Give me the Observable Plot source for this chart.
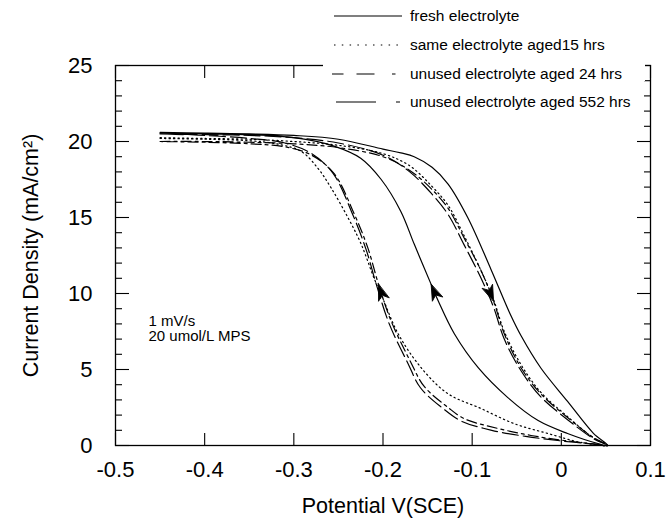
<!DOCTYPE html>
<html><head><meta charset="utf-8">
<script src="https://cdn.jsdelivr.net/npm/d3@7"></script>
<script src="https://cdn.jsdelivr.net/npm/@observablehq/plot@0.6"></script>
<style>
body{margin:0;background:#fff;}
#wrap{position:relative;width:666px;height:522px;font-family:"Liberation Sans",Arial,Helvetica,sans-serif;}
</style></head><body><div id="wrap"></div>
<script>
// ---- data ----
const seriesNames = ["fresh electrolyte", "same electrolyte aged15 hrs", "unused electrolyte aged 24 hrs", "unused electrolyte aged 552 hrs"];
const xTicks = [-0.5, -0.4, -0.3, -0.2, -0.1, 0, 0.1];
const xTickLabels = ["-0.5", "-0.4", "-0.3", "-0.2", "-0.1", "0", "0.1"];
const yTicks = [0, 5, 10, 15, 20, 25];
const yTickLabels = ["0", "5", "10", "15", "20", "25"];
const yMinorTicks = [1,2,3,4,6,7,8,9,11,12,13,14,16,17,18,19,21,22,23,24];
const xLabel = "Potential V(SCE)";
const yLabel = "Current Density (mA/cm²)";
const noteLines = ["1 mV/s", "20 umol/L MPS"];

// fresh electrolyte: forward sweep then return sweep
const freshV = [-0.45,-0.40,-0.35,-0.30,-0.25,-0.20,-0.18,-0.165,-0.145,-0.127,-0.105,-0.079,-0.057,-0.045,-0.023,0.007,0.036,0.052,
                0.041,0.007,-0.026,-0.060,-0.093,-0.120,-0.138,-0.146,-0.165,-0.180,-0.202,-0.225,-0.255,-0.30,-0.35,-0.40,-0.45];
const freshI = [20.6,20.55,20.5,20.4,20.15,19.5,19.25,19.0,18.3,17.2,15.0,11.6,8.6,7.2,5.1,2.9,0.8,0.0,
                0.13,0.79,1.64,3.15,5.1,7.35,9.5,10.6,13.25,15.4,17.5,18.9,19.7,20.25,20.45,20.5,20.55];
// same electrolyte aged 15 hrs
const aged15V = [-0.45,-0.40,-0.35,-0.30,-0.25,-0.20,-0.17,-0.146,-0.127,-0.109,-0.090,-0.076,-0.064,-0.045,-0.023,0.007,0.036,0.052,
                 0.022,-0.015,-0.053,-0.090,-0.127,-0.157,-0.183,-0.199,-0.210,-0.2245,-0.239,-0.258,-0.273,-0.292,-0.32,-0.35,-0.40,-0.45];
const aged15I = [20.25,20.2,20.15,20.0,19.75,19.2,18.4,17.1,15.8,13.8,11.5,9.6,7.5,5.3,3.5,1.9,0.5,0,
                 0.2,0.79,1.44,2.43,3.4,5.1,7.35,9.5,11.0,13.25,14.96,16.93,18.24,19.36,19.85,20.05,20.15,20.2];
// unused electrolyte aged 24 hrs
const aged24V = [-0.45,-0.40,-0.35,-0.30,-0.25,-0.20,-0.17,-0.146,-0.127,-0.109,-0.090,-0.076,-0.064,-0.045,-0.023,0.007,0.036,0.052,
                 0.041,0.003,-0.034,-0.071,-0.109,-0.127,-0.154,-0.169,-0.191,-0.205,-0.217,-0.232,-0.255,-0.28,-0.31,-0.35,-0.40,-0.45];
const aged24I = [20.0,20.0,19.95,19.85,19.6,19.0,18.1,16.9,15.6,13.65,11.5,9.5,7.35,5.1,3.4,1.84,0.52,0,
                 0.07,0.33,0.66,1.12,1.77,2.5,3.9,5.5,8.2,10.6,13.0,15.2,17.9,19.1,19.65,19.85,19.95,20.0];
// unused electrolyte aged 552 hrs
const aged552V = [-0.45,-0.40,-0.35,-0.30,-0.25,-0.20,-0.17,-0.146,-0.127,-0.109,-0.090,-0.076,-0.064,-0.045,-0.023,0.007,0.036,0.052,
                  0.040,0.000,-0.040,-0.078,-0.112,-0.132,-0.158,-0.172,-0.193,-0.207,-0.219,-0.234,-0.256,-0.28,-0.31,-0.35,-0.40,-0.45];
const aged552I = [20.5,20.45,20.4,20.25,19.9,19.1,18.0,16.6,15.2,13.2,11.0,9.1,7.0,4.9,3.2,1.7,0.45,0,
                  0.07,0.3,0.6,1.0,1.6,2.4,3.8,5.4,8.0,10.5,12.9,15.2,17.9,19.2,19.9,20.2,20.4,20.5];

// sweep-direction arrows: which series, and which point of it carries the arrow tip
const arrowSeries = [0, 2, 2];
const arrowPoint = [25, 27, 11];

// ---- styles / layout ----
const W = 666, H = 522, mL = 115, mR = 16, mT = 65, mB = 77;
const xDomain = [-0.5, 0.1], yDomain = [0, 25];
const curveDash = [null, "1.3,3.2", "10,4,3,4", "16,5"];
const FONT = '"Liberation Sans", Arial, Helvetica, sans-serif';

const seriesData = [[freshV, freshI], [aged15V, aged15I], [aged24V, aged24I], [aged552V, aged552I]];
const rows = [];
seriesData.forEach(([V, I], s) => V.forEach((v, i) => rows.push({series: seriesNames[s], s, i, V: v, I: I[i]})));

const innerW = W - mL - mR, innerH = H - mT - mB;
const kx = innerW / (xDomain[1] - xDomain[0]);
const ky = innerH / (yDomain[1] - yDomain[0]);
const arrowRows = arrowSeries.map((s, k) => {
  const [V, I] = seriesData[s];
  const j = arrowPoint[k];
  const dx = (V[j] - V[j - 1]) * kx, dy = -(I[j] - I[j - 1]) * ky;
  return {V: V[j], I: I[j], rot: Math.atan2(dx, -dy) * 180 / Math.PI};
});

const barb = {draw(context) {
  context.moveTo(0, 0);
  context.lineTo(-5.5, 16);
  context.lineTo(0, 11.5);
  context.lineTo(5.5, 16);
  context.closePath();
}};
// tick lengths in pixels, turned into data units for the rules
const tx = px => px / kx, ty = px => px / ky;
const tickStyle = {stroke: "black", strokeWidth: 1.1};

const plot = Plot.plot({
  width: W, height: H,
  marginLeft: mL, marginRight: mR, marginTop: mT, marginBottom: mB,
  x: {domain: xDomain},
  y: {domain: yDomain},
  style: {fontFamily: FONT, fontSize: "22px", color: "black", background: "white", overflow: "visible"},
  marks: [
    Plot.axisX({ticks: xTicks, tickFormat: d => xTickLabels[xTicks.indexOf(d)], tickSize: 0, tickPadding: 16, label: null, fontSize: 22}),
    Plot.axisY({ticks: yTicks, tickFormat: d => yTickLabels[yTicks.indexOf(d)], tickSize: 0, tickPadding: 23, label: null, fontSize: 22}),
    // curves
    ...seriesNames.map((name, s) => Plot.line(rows.filter(r => r.s === s), {
      x: "V", y: "I", curve: "catmull-rom", stroke: "black", strokeWidth: 1.2,
      strokeDasharray: curveDash[s]
    })),
    // arrows
    Plot.vector(arrowRows, {x: "V", y: "I", rotate: "rot", length: 16, shape: barb, anchor: "start",
      fill: "black", stroke: "black", strokeWidth: 0.8}),
    Plot.frame({stroke: "black", strokeWidth: 1.3}),
    // inward tick marks on all four sides
    Plot.ruleX(xTicks, {x: d => d, y1: yDomain[0], y2: yDomain[0] + ty(12), ...tickStyle}),
    Plot.ruleX(xTicks, {x: d => d, y1: yDomain[1] - ty(13), y2: yDomain[1], ...tickStyle}),
    Plot.ruleY(yTicks, {y: d => d, x1: xDomain[0], x2: xDomain[0] + tx(14), ...tickStyle}),
    Plot.ruleY(yMinorTicks, {y: d => d, x1: xDomain[0], x2: xDomain[0] + tx(7), ...tickStyle}),
    Plot.ruleY(yTicks, {y: d => d, x1: xDomain[1] - tx(13), x2: xDomain[1], ...tickStyle}),
    Plot.ruleY(yMinorTicks, {y: d => d, x1: xDomain[1] - tx(6), x2: xDomain[1], ...tickStyle}),
    // annotation
    Plot.text([noteLines.join("\n")], {frameAnchor: "top-left", dx: 33, dy: 249, lineAnchor: "top",
      textAnchor: "start", fontSize: 15, lineHeight: 1.05, fill: "black"}),
    // axis titles
    Plot.text([xLabel], {frameAnchor: "bottom", dy: 61, lineAnchor: "middle", textAnchor: "middle", fontSize: 21.5, fill: "black"}),
    Plot.text([yLabel], {frameAnchor: "left", dx: -84, rotate: -90, lineAnchor: "middle", textAnchor: "middle", fontSize: 21.5, fill: "black"})
  ]
});
const wrap = document.getElementById("wrap");
plot.style.position = "absolute"; plot.style.left = "0"; plot.style.top = "0";
wrap.appendChild(plot);

// ---- legend (boxed area overlapping the top of the frame) ----
const legendY = [16, 45, 74, 102];
const legendSample = [
  {x1: 334, x2: 402, dash: null},
  {x1: 334, x2: 402, dash: "1.5,6.3"},
  {x1: 332, x2: 396, dash: "11.5,13,18,17.5,3.5,60"},
  {x1: 336, x2: 400, dash: "40,20,4,60"}
];
const leg = d3.select(wrap).append("svg")
  .attr("width", W).attr("height", 120)
  .style("position", "absolute").style("left", "0").style("top", "0")
  .style("font-family", FONT);
leg.append("rect").attr("x", 323).attr("y", 0).attr("width", 322).attr("height", 81).attr("fill", "white");
seriesNames.forEach((name, s) => {
  const smp = legendSample[s];
  const ln = leg.append("line").attr("x1", smp.x1).attr("x2", smp.x2)
    .attr("y1", legendY[s]).attr("y2", legendY[s])
    .attr("stroke", "black").attr("stroke-width", 1.2);
  if (smp.dash) ln.attr("stroke-dasharray", smp.dash);
  leg.append("text").attr("x", 410).attr("y", legendY[s]).attr("dy", "0.35em")
    .attr("font-size", 15.5).attr("fill", "black").text(name);
});
</script>
</body></html>
